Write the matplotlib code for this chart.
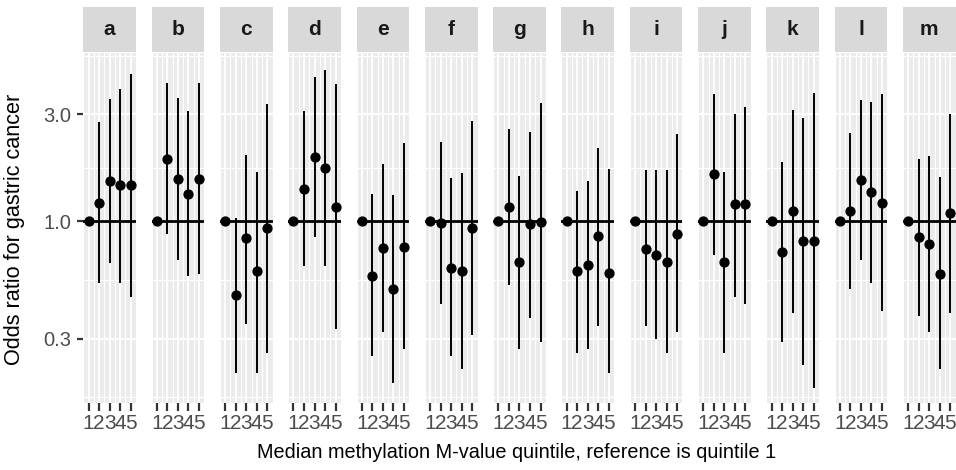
import matplotlib
matplotlib.use("Agg")
import matplotlib.pyplot as plt
from matplotlib.patches import Rectangle
import numpy as np

plt.rcParams['font.family'] = ['Liberation Sans', 'DejaVu Sans']

panels = list("abcdefghijklm")
quintiles = [1, 2, 3, 4, 5]

# odds ratios (quintile 1 is reference = 1.0)
or_a = [1.0, 1.21, 1.52, 1.45, 1.45]
or_b = [1.0, 1.90, 1.55, 1.33, 1.55]
or_c = [1.0, 0.47, 0.84, 0.60, 0.93]
or_d = [1.0, 1.40, 1.94, 1.73, 1.16]
or_e = [1.0, 0.57, 0.76, 0.50, 0.77]
or_f = [1.0, 0.98, 0.62, 0.60, 0.93]
or_g = [1.0, 1.16, 0.66, 0.97, 0.99]
or_h = [1.0, 0.60, 0.64, 0.86, 0.59]
or_i = [1.0, 0.75, 0.71, 0.66, 0.88]
or_j = [1.0, 1.62, 0.66, 1.19, 1.19]
or_k = [1.0, 0.73, 1.11, 0.82, 0.82]
or_l = [1.0, 1.11, 1.53, 1.35, 1.21]
or_m = [1.0, 0.85, 0.79, 0.58, 1.09]

lo_a = [np.nan, 0.53, 0.65, 0.53, 0.46]
lo_b = [np.nan, 0.88, 0.67, 0.57, 0.58]
lo_c = [np.nan, 0.21, 0.35, 0.21, 0.26]
lo_d = [np.nan, 0.63, 0.85, 0.63, 0.33]
lo_e = [np.nan, 0.25, 0.32, 0.19, 0.27]
lo_f = [np.nan, 0.43, 0.25, 0.22, 0.31]
lo_g = [np.nan, 0.52, 0.27, 0.37, 0.29]
lo_h = [np.nan, 0.26, 0.27, 0.34, 0.21]
lo_i = [np.nan, 0.34, 0.30, 0.26, 0.32]
lo_j = [np.nan, 0.71, 0.26, 0.46, 0.43]
lo_k = [np.nan, 0.29, 0.39, 0.23, 0.18]
lo_l = [np.nan, 0.50, 0.67, 0.53, 0.40]
lo_m = [np.nan, 0.38, 0.32, 0.22, 0.39]

hi_a = [np.nan, 2.77, 3.52, 3.90, 4.55]
hi_b = [np.nan, 4.15, 3.54, 3.10, 4.13]
hi_c = [np.nan, 1.03, 1.97, 1.66, 3.33]
hi_d = [np.nan, 3.11, 4.39, 4.74, 4.08]
hi_e = [np.nan, 1.32, 1.80, 1.31, 2.24]
hi_f = [np.nan, 2.25, 1.56, 1.64, 2.81]
hi_g = [np.nan, 2.58, 1.60, 2.49, 3.37]
hi_h = [np.nan, 1.37, 1.52, 2.13, 1.71]
hi_i = [np.nan, 1.69, 1.70, 1.70, 2.44]
hi_j = [np.nan, 3.71, 1.66, 3.00, 3.24]
hi_k = [np.nan, 1.84, 3.13, 2.88, 3.73]
hi_l = [np.nan, 2.47, 3.47, 3.40, 3.68]
hi_m = [np.nan, 1.89, 1.96, 1.57, 3.01]

ors = [or_a, or_b, or_c, or_d, or_e, or_f, or_g, or_h, or_i, or_j, or_k, or_l, or_m]
los = [lo_a, lo_b, lo_c, lo_d, lo_e, lo_f, lo_g, lo_h, lo_i, lo_j, lo_k, lo_l, lo_m]
his = [hi_a, hi_b, hi_c, hi_d, hi_e, hi_f, hi_g, hi_h, hi_i, hi_j, hi_k, hi_l, hi_m]

y_ticks = [0.3, 1.0, 3.0]
y_ticklabels = ["0.3", "1.0", "3.0"]

W, H = 956, 470
fig = plt.figure(figsize=(W / 100, H / 100), dpi=100)

left_px = 83.3
pw = 52.7
stride = 68.3
top_px = 53.3
bot_px = 403.0
ph = bot_px - top_px

# y limits (log scale)
ymin, ymax = 0.155, 5.61
xmin, xmax = 0.5, 5.5

for i, name in enumerate(panels):
    x0 = left_px + i * stride
    ax = fig.add_axes([x0 / W, 1 - bot_px / H, pw / W, ph / H])
    ax.set_facecolor("#EBEBEB")
    ax.set_yscale("log")
    ax.set_xlim(xmin, xmax)
    ax.set_ylim(ymin, ymax)
    for s in ax.spines.values():
        s.set_visible(False)
    # grid
    for gx in np.arange(0.5, 5.51, 0.5):
        major = abs(gx - round(gx)) < 1e-6
        ax.axvline(gx, color="white", lw=1.3 if major else 0.8, zorder=0.5)
    for gy in [0.3, 1.0, 3.0]:
        ax.axhline(gy, color="white", lw=1.3, zorder=0.5)
    for gy in [np.sqrt(0.3 * 0.09), np.sqrt(0.3), np.sqrt(3.0), np.sqrt(30.0)]:
        ax.axhline(gy, color="white", lw=0.8, zorder=0.5)

    ax.axhline(1.0, color="black", lw=2.0, zorder=2)
    ax.vlines(quintiles, los[i], his[i], color="black", lw=1.4, zorder=3)
    ax.plot(quintiles, ors[i], "o", color="black", ms=6.4, zorder=4, clip_on=False)

    ax.set_xticks(quintiles)
    ax.set_xticklabels([str(q) for q in quintiles])
    ax.xaxis.set_minor_locator(matplotlib.ticker.NullLocator())
    ax.yaxis.set_minor_locator(matplotlib.ticker.NullLocator())
    ax.tick_params(axis="x", length=5.5, width=1.6, color="#333333",
                   labelsize=15, labelcolor="#4D4D4D", pad=2.5)
    ax.set_yticks(y_ticks)
    if i == 0:
        ax.set_yticklabels(y_ticklabels)
        ax.tick_params(axis="y", length=4.5, width=1.6, color="#333333",
                       labelsize=14.5, labelcolor="#4D4D4D", pad=4)
    else:
        ax.tick_params(axis="y", length=0, labelleft=False)

    # strip
    s0 = 1 + (top_px - 52.0) / ph
    s1 = 1 + (top_px - 7.0) / ph
    ax.add_patch(Rectangle((0, s0), 1, s1 - s0, transform=ax.transAxes,
                           facecolor="#D9D9D9", edgecolor="none", clip_on=False))
    ax.text(0.5, (s0 + s1) / 2, name, transform=ax.transAxes, ha="center",
            va="center", fontsize=15, fontweight="bold", color="#1A1A1A")

fig.text(517 / W, 1 - 453 / H,
         "Median methylation M-value quintile, reference is quintile 1",
         ha="center", va="center", fontsize=14.3, color="black")
fig.text(15 / W, 1 - 229 / H, "Odds ratio for gastric cancer",
         ha="center", va="center", rotation=90, fontsize=15.6, color="black")

fig.savefig("out.png", dpi=100)
